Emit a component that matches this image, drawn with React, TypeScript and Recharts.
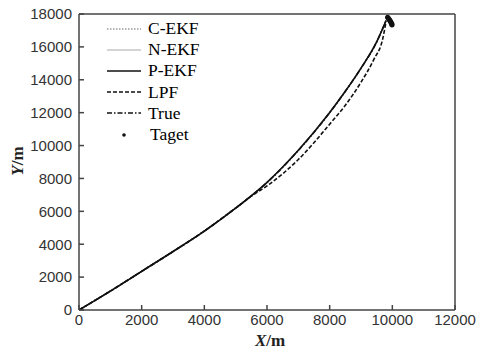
import {
  ComposedChart,
  Line,
  ReferenceLine,
  Scatter,
  XAxis,
  YAxis,
} from "recharts";

// trajectory x (m) shared by the EKF curves and the true track
const trackX = [0, 1000, 2000, 3000, 4000, 5000, 6000, 7000, 8000, 8500, 9000, 9500, 9800];
const trueY = [0, 1150, 2350, 3550, 4800, 6200, 7750, 9700, 12000, 13300, 14700, 16300, 17600];
const cEkfY = [0, 1160, 2340, 3570, 4810, 6180, 7770, 9680, 12020, 13280, 14720, 16280, 17620];
const nEkfY = [0, 1140, 2360, 3540, 4790, 6210, 7740, 9720, 11980, 13320, 14690, 16320, 17590];
const pEkfY = [0, 1150, 2350, 3560, 4800, 6190, 7760, 9710, 12010, 13300, 14710, 16300, 17610];

const lpfX = [0, 1000, 2000, 3000, 4000, 5000, 5600, 6000, 7000, 8000, 8500, 9000, 9400, 9700, 9800];
const lpfY = [0, 1150, 2350, 3550, 4800, 6200, 7050, 7550, 9150, 11300, 12450, 13850, 15200, 16550, 17550];

const targetX = [9850, 9880, 9910, 9940, 9960, 9980, 9990];
const targetY = [17800, 17720, 17640, 17560, 17480, 17400, 17340];

const xTicks = [0, 2000, 4000, 6000, 8000, 10000, 12000];
const yTicks = [0, 2000, 4000, 6000, 8000, 10000, 12000, 14000, 16000, 18000];

const zip = (xs: number[], ys: number[]) => xs.map((x, i) => ({ x, y: ys[i] }));

const series = [
  { name: "C-EKF", data: zip(trackX, cEkfY), stroke: "#666", width: 1, dash: "1.5 1.5" },
  { name: "N-EKF", data: zip(trackX, nEkfY), stroke: "#aaa", width: 1.2, dash: undefined },
  { name: "P-EKF", data: zip(trackX, pEkfY), stroke: "#111", width: 1.6, dash: undefined },
  { name: "LPF", data: zip(lpfX, lpfY), stroke: "#111", width: 1.6, dash: "4 2" },
  { name: "True", data: zip(trackX, trueY), stroke: "#111", width: 1.6, dash: "5 2 1.5 2" },
];

const targets = zip(targetX, targetY);

const serif = "'Liberation Serif', 'Times New Roman', serif";
const sans = "'Liberation Sans', Arial, sans-serif";

function LegendBox() {
  return (
    <div style={{ position: "absolute", left: 106, top: 18, fontFamily: serif, fontSize: 17.5, color: "#000" }}>
      {series.map((s) => (
        <div key={s.name} style={{ display: "flex", alignItems: "center", height: 21.2 }}>
          <svg width={36} height={10} style={{ marginRight: 6 }}>
            <line x1={1} y1={5} x2={35} y2={5} stroke={s.stroke} strokeWidth={s.width} strokeDasharray={s.dash} />
          </svg>
          <span>{s.name}</span>
        </div>
      ))}
      <div style={{ display: "flex", alignItems: "center", height: 21.2 }}>
        <svg width={36} height={10} style={{ marginRight: 8 }}>
          <circle cx={18} cy={5} r={1.8} fill="#111" />
        </svg>
        <span>Taget</span>
      </div>
    </div>
  );
}

const tickStyle = { fontSize: 15, fill: "#333", fontFamily: sans };

export default function App() {
  return (
    <div style={{ position: "absolute", left: 0, top: 0, width: 478, height: 350, background: "#fff" }}>
      <ComposedChart width={478} height={350} margin={{ top: 14, right: 23, bottom: 0, left: 0 }}>
        <XAxis
          type="number"
          dataKey="x"
          domain={[0, 12000]}
          ticks={xTicks}
          interval={0}
          allowDataOverflow
          stroke="#444"
          strokeWidth={1.5}
          tickSize={-5}
          tickMargin={9}
          tick={tickStyle}
          height={40}
          label={(props: any) => {
            const vb = props.viewBox;
            return (
              <text
                x={vb.x + vb.width / 2 + 3}
                y={346}
                textAnchor="middle"
                fontFamily={serif}
                fontSize={17}
                fontWeight="bold"
                fill="#222"
              >
                <tspan fontStyle="italic">X</tspan>
                <tspan>/m</tspan>
              </text>
            );
          }}
        />
        <YAxis
          type="number"
          dataKey="y"
          domain={[0, 18000]}
          ticks={yTicks}
          interval={0}
          allowDataOverflow
          stroke="#444"
          strokeWidth={1.5}
          tickSize={-5}
          tickMargin={12}
          tick={tickStyle}
          width={79}
          label={() => (
            <text
              x={23}
              y={161}
              transform="rotate(-90 23 161)"
              textAnchor="middle"
              fontFamily={serif}
              fontSize={17}
              fontWeight="bold"
              fill="#222"
            >
              <tspan fontStyle="italic">Y</tspan>
              <tspan>/m</tspan>
            </text>
          )}
        />
        <ReferenceLine y={18000} stroke="#444" strokeWidth={1.5} />
        <ReferenceLine x={12000} stroke="#444" strokeWidth={1.5} />
        {series.map((s) => (
          <Line
            key={s.name}
            data={s.data}
            dataKey="y"
            name={s.name}
            type="monotone"
            stroke={s.stroke}
            strokeWidth={s.width}
            strokeDasharray={s.dash}
            dot={false}
            activeDot={false}
            isAnimationActive={false}
          />
        ))}
        <Scatter
          data={targets}
          dataKey="y"
          name="Taget"
          fill="#111"
          shape={(p: any) => <circle cx={p.cx} cy={p.cy} r={2.6} fill="#111" />}
          isAnimationActive={false}
        />
      </ComposedChart>
      <LegendBox />
    </div>
  );
}
